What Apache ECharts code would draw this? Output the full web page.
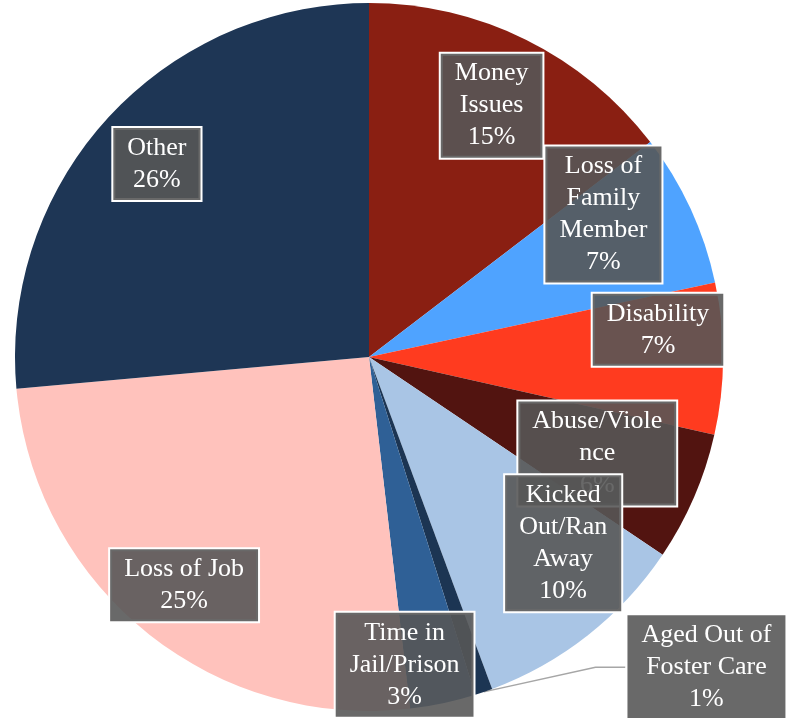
<!DOCTYPE html>
<html>
<head>
<meta charset="utf-8">
<script src="https://cdn.jsdelivr.net/npm/echarts@6/dist/echarts.min.js"></script>
<style>
  html, body { margin: 0; padding: 0; background: #fff; }
  #chart { width: 800px; height: 718px; }
</style>
</head>
<body>
<div id="chart"></div>
<script>
// 数据
var categories = ['Money Issues', 'Loss of Family Member', 'Disability', 'Abuse/Violence',
    'Kicked Out/Ran Away', 'Aged Out of Foster Care', 'Time in Jail/Prison', 'Loss of Job', 'Other'];
var labelText = ['Money\nIssues', 'Loss of\nFamily\nMember', 'Disability', 'Abuse/Viole\nnce',
    'Kicked\nOut/Ran\nAway', 'Aged Out of\nFoster Care', 'Time in\nJail/Prison', 'Loss of Job', 'Other'];
// 估计的份额 (标签显示取整后的百分比)
var shares = [14.6, 7.0, 6.9, 5.9, 9.9, 0.8, 3.0, 25.4, 26.4];
var colors = ['#8a1f12', '#4fa3ff', '#ff3b1f', '#521410', '#a9c5e5', '#1c3553', '#2f6096', '#ffc2bc', '#1e3655'];

// 标签位置 [半径比例, 角度(从12点顺时针)]
var labelSpots = [[0.79, 26], [0.775, 58.7], [0.82, 84.6], [0.70, 112.9], [0.76, 133.8],
    [1.295, 132.6], [0.875, 173.4], [0.83, 219], [0.81, 312.3]];

var cx = 369, cy = 357, R = 354;

var chart = echarts.init(document.getElementById('chart'), null, { renderer: 'canvas' });

chart.setOption({
    animation: false,
    series: [{
        type: 'pie',
        center: [cx, cy],
        radius: [0, R],
        startAngle: 90,
        clockwise: true,
        avoidLabelOverlap: false,
        data: categories.map(function (name, i) {
            return {
                name: name,
                value: shares[i],
                itemStyle: { color: colors[i] },
                label: { position: i === 5 ? 'outside' : 'inside' },
                labelLine: { show: i === 5 }
            };
        }),
        label: {
            show: true,
            formatter: function (p) {
                return labelText[p.dataIndex] + '\n' + Math.round(p.value) + '%';
            },
            fontFamily: '"Liberation Serif", "Times New Roman", serif',
            fontSize: 26,
            lineHeight: 32,
            color: '#ffffff',
            backgroundColor: 'rgba(86,86,86,0.89)',
            borderColor: '#ffffff',
            borderWidth: 2,
            padding: [4, 14]
        },
        labelLine: {
            lineStyle: { color: '#a6a6a6', width: 1.5 }
        },
        labelLayout: function (params) {
            var s = labelSpots[params.dataIndex];
            var a = s[1] * Math.PI / 180;
            return {
                x: cx + s[0] * R * Math.sin(a),
                y: cy - s[0] * R * Math.cos(a),
                align: 'center',
                verticalAlign: 'middle'
            };
        }
    }]
});
</script>
</body>
</html>
